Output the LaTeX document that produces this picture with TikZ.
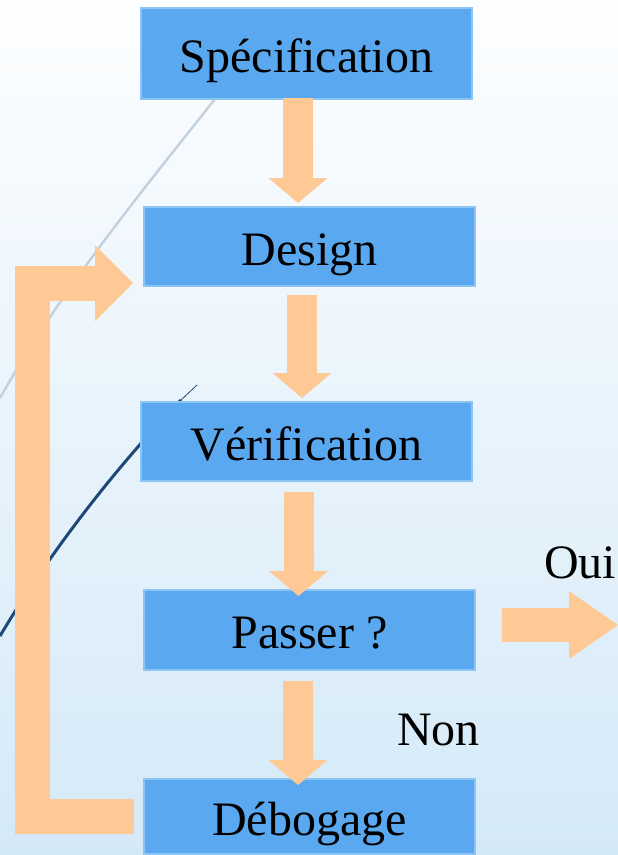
\documentclass[tikz,border=0pt]{standalone}
\usepackage{fontspec}
\setmainfont{Liberation Serif}
\usetikzlibrary{arrows.meta, positioning}
\definecolor{boxBlue}{RGB}{90,168,240}
\definecolor{boxEdge}{RGB}{140,196,244}
\definecolor{softPeach}{RGB}{255,201,150}
\definecolor{bgTop}{RGB}{253,254,255}
\definecolor{bgBottom}{RGB}{212,233,248}
\definecolor{curveGrey}{RGB}{195,208,222}
\definecolor{curveNavy}{RGB}{30,72,120}

\begin{document}
\begin{tikzpicture}[
    x=1pt, y=-1pt,
    block/.style={draw=boxEdge, fill=boxBlue, line width=2pt,
        minimum width=331pt, minimum height=79pt, inner sep=0pt,
        text height=37pt, text depth=0pt,
        font=\fontsize{48pt}{57pt}\selectfont},
    lbl/.style={anchor=base west, inner sep=0pt, font=\fontsize{48pt}{57pt}\selectfont},
    downarr/.style={draw=softPeach, line width=30pt,
        -{Triangle[length=25pt, width=59pt, line width=0pt]}},
    ouiarr/.style={draw=softPeach, line width=34pt,
        -{Triangle[length=49pt, width=68pt, line width=0pt]}},
    looparr/.style={draw=softPeach, line width=35pt, line join=miter,
        -{Triangle[length=38pt, width=76pt, line width=0pt]}}
]
    \clip (0,0) rectangle (618,855);
    \shade[top color=bgTop, bottom color=bgBottom] (0,0) rectangle (618,855);

    % decorative curves behind everything
    \draw[curveGrey, line width=2.4pt] (215,99) .. controls (143,190) and (62,288) .. (0,398);
    \draw[curveNavy, line width=0.8pt] (197,385) -- (181,400);
    \draw[curveNavy, line width=3pt] (181,400) .. controls (135,447) and (60,535) .. (0,636);

    % steps
    \node[block, minimum height=91pt] (spec) at (306.5,53.5) {Spécification};
    \node[block, below=106pt of spec, xshift=3pt] (des) {Design};
    \node[block, below=114pt of des, xshift=-3pt] (ver) {Vérification};
    \node[block, below=107pt of ver, xshift=3pt, minimum height=80pt] (pas) {Passer ?};
    \node[block, below=107pt of pas, minimum height=75pt] (deb) {Débogage};

    % flow
    \draw[downarr] ([xshift=-8.5pt,yshift=2pt]spec.south) -- ([xshift=-11.5pt,yshift=3pt]des.north);
    \draw[downarr] ([xshift=-7.5pt,yshift=-8pt]des.south) -- ([xshift=-4.5pt,yshift=3pt]ver.north);
    \draw[downarr] ([xshift=-8pt,yshift=-10pt]ver.south) -- ([xshift=-11pt,yshift=-7pt]pas.north);
    \draw[downarr] ([xshift=-11.5pt,yshift=-10pt]pas.south) -- ([xshift=-11.5pt,yshift=-7pt]deb.north);

    % yes branch
    \coordinate (ouiend) at (618,625);
    \draw[ouiarr] ([xshift=26pt]pas.east |- ouiend) -- (ouiend);
    \node[lbl] (oui) at (544,578) {Oui};
    \node[lbl] (non) at (397,745) {Non};

    % loop back
    \coordinate (lp) at (32,0);
    \coordinate (lpin) at ([xshift=-10pt,yshift=-36.5pt]des.west);
    \coordinate (lpout) at ([xshift=-9pt]deb.west);
    \draw[looparr] (lpout) -| (lp |- lpin) -- (lpin);
\end{tikzpicture}
\end{document}
